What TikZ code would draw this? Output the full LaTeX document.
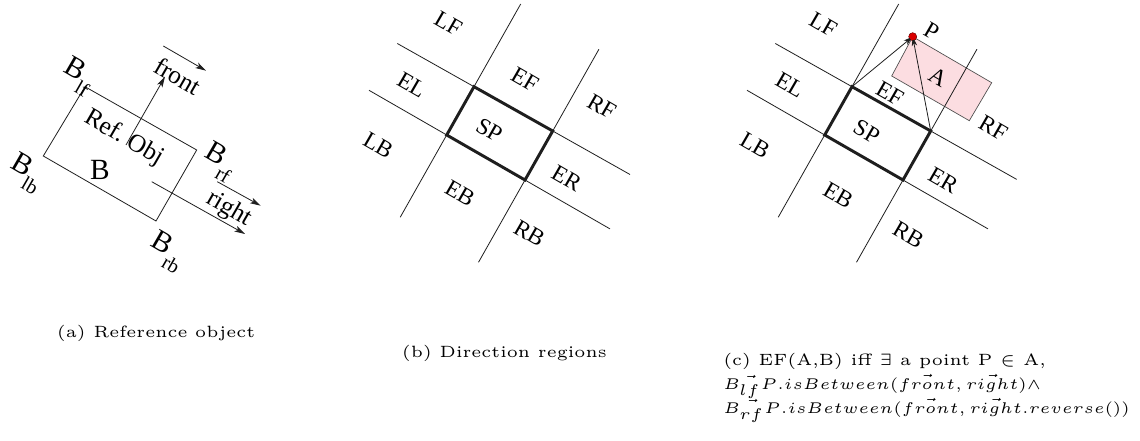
\documentclass[tikz,border=0pt]{standalone}
\usepackage{fontspec}
\newfontfamily\figfont{Liberation Serif}
\usetikzlibrary{arrows.meta,calc}
\newcommand{\mycapt}[1]{\scalebox{2.45}{\fontsize{5}{6}\selectfont #1}}
\newcommand{\mycaptm}[1]{\scalebox{2.33}{\fontsize{5}{6}\selectfont #1}}
\newcommand{\lowsub}[1]{\raisebox{-0.42em}{\fontsize{15}{15}\selectfont #1}}
\definecolor{pinkfill}{RGB}{252,221,225}
\definecolor{linecol}{RGB}{30,30,30}
\begin{document}
\begin{tikzpicture}[x=0.75pt,y=-0.75pt,
  thinline/.style={line width=0.6pt, draw=linecol},
  thickline/.style={line width=2.2pt, draw=linecol, line join=miter},
  arr/.style={thinline, -{Stealth[length=8pt,width=4.5pt,inset=2pt]}},
  parr/.style={thinline, -{Stealth[length=7pt,width=4pt,inset=2pt]}},
  lab/.style={font=\figfont\fontsize{17.5}{17.5}\selectfont, rotate=-30, inner sep=0pt},
  biglab/.style={font=\figfont\fontsize{22}{22}\selectfont, rotate=-30, inner sep=0pt},
  midlab/.style={font=\figfont\fontsize{19}{19}\selectfont, rotate=-30, inner sep=0pt},
  caption/.style={anchor=base west, inner sep=0pt}]
\useasboundingbox (0,0) rectangle (1140,441);

% ---------------- panel (a)
\coordinate (alf) at (85,86.7);
\coordinate (arf) at (196.7,150);
\coordinate (arb) at (156,221);
\coordinate (alb) at (43.3,156);
\draw[thinline] (alf) -- (arf) -- (arb) -- (alb) -- cycle;
\coordinate (fs) at (126,145);
\coordinate (fe) at (165,76.7);
\draw[arr] (fs) -- (fe);
\coordinate (sfs) at (163.3,46);
\coordinate (sfe) at (206,70.7);
\draw[arr] (sfs) -- (sfe);
\coordinate (rs) at (151.7,181.7);
\coordinate (re) at (245,234);
\draw[arr] (rs) -- (re);
\coordinate (srs) at (217.3,181.7);
\coordinate (sre) at (260.7,205.7);
\draw[arr] (srs) -- (sre);
\node[midlab] (tfront) at (178,76) {front};
\node[midlab] (tright) at (229,209) {right};
\node[midlab] (tref) at (124,138) {Ref.\ Obj};
\node[font=\figfont\fontsize{22}{22}\selectfont, inner sep=0pt] (tB) at (100,170) {B};
\node[biglab] (tblf) at (78,76) {B\lowsub{lf}};
\node[biglab] (tbrf) at (219,162) {B\lowsub{rf}};
\node[biglab] (tblb) at (26,173) {B\lowsub{lb}};
\node[biglab] (tbrb) at (167,252) {B\lowsub{rb}};

% ---------------- panel (b)
\coordinate (bT) at (474,86.7);
\coordinate (bR) at (552.7,131);
\coordinate (bB) at (525,180);
\coordinate (bL) at (446.7,135);
\coordinate (bu1) at (397.3,43.5);
\coordinate (bu2) at (630,174.5);
\coordinate (bl1) at (369,90.3);
\coordinate (bl2) at (610,228.9);
\coordinate (bs1) at (520.7,4);
\coordinate (bs2) at (400.2,217.3);
\coordinate (bt1) at (598.9,49.3);
\coordinate (bt2) at (478.5,262.3);
\draw[thinline] (bu1) -- (bu2);
\draw[thinline] (bl1) -- (bl2);
\draw[thinline] (bs1) -- (bs2);
\draw[thinline] (bt1) -- (bt2);
\draw[thickline] (bT) -- (bR) -- (bB) -- (bL) -- cycle;
\node[lab] (bLF) at (448.3,23.3) {LF};
\node[lab] (bEF) at (525,80) {EF};
\node[lab] (bRF) at (601.7,106.7) {RF};
\node[lab] (bEL) at (411.7,85) {EL};
\node[lab] (bSP) at (489.3,130) {SP};
\node[lab] (bLB) at (378.3,145) {LB};
\node[lab] (bEB) at (460,193.3) {EB};
\node[lab] (bER) at (566.7,178.3) {ER};
\node[lab] (bRB) at (529.3,233.3) {RB};

% ---------------- panel (c)
\coordinate (cA1) at (912.7,36.7);
\coordinate (cA2) at (991.7,82.7);
\coordinate (cA3) at (969.3,120.7);
\coordinate (cA4) at (891.7,76);
\fill[pinkfill] (cA1) -- (cA2) -- (cA3) -- (cA4) -- cycle;
\draw[line width=0.5pt, draw=black!70] (cA1) -- (cA2) -- (cA3) -- (cA4) -- cycle;
\coordinate (cT) at (852,86.7);
\coordinate (cR) at (930.7,131);
\coordinate (cB) at (903,180);
\coordinate (cL) at (824.7,135);
\coordinate (cu1) at (775.3,43.5);
\coordinate (cu2) at (1016.7,179.4);
\coordinate (cl1) at (747,90.3);
\coordinate (cl2) at (988,228.9);
\coordinate (cs1) at (898.7,4);
\coordinate (cs2) at (778.2,217.3);
\coordinate (ct1) at (976.9,49.3);
\coordinate (ct2) at (856.5,262.3);
\draw[thinline] (cu1) -- (cu2);
\draw[thinline] (cl1) -- (cl2);
\draw[thinline] (cs1) -- (cs2);
\draw[thinline] (ct1) -- (ct2);
\draw[thickline] (cT) -- (cR) -- (cB) -- (cL) -- cycle;
\node[circle, fill=red!85!black, draw=black!60!red, line width=0.4pt, minimum size=6pt, inner sep=0pt] (P) at (cA1) {};
\draw[parr] (cT) -- (P.center);
\draw[parr] (cR) -- (P.center);
\fill[red!85!black] (P) circle (2.6pt);
\node[lab] (cPl) at (931.5,31.5) {P};
\node[lab] (cAl) at (938,77) {A};
\node[lab] (cLF) at (823.3,25) {LF};
\node[lab] (cEF) at (890,93.3) {EF};
\node[lab] (cRF) at (993.3,128.3) {RF};
\node[lab] (cEL) at (790,85) {EL};
\node[lab] (cSP) at (866.7,131.7) {SP};
\node[lab] (cLB) at (755,145) {LB};
\node[lab] (cEB) at (838.3,195) {EB};
\node[lab] (cER) at (943.3,180) {ER};
\node[lab] (cRB) at (908.3,235) {RB};

% ---------------- captions
\node[caption] (capa) at (56.7,338) {\mycapt{(a) Reference object}};
\node[caption] (capb) at (401.7,357.3) {\mycapt{(b) Direction regions}};
\node[caption] (capc1) at (723,365.7) {\mycapt{(c) EF(A,B) iff $\exists$ a point P $\in$ A,}};
\node[caption] (capc2) at (723,390) {\mycaptm{$\vec{B_{lf}P}.isBetween(\vec{front},\vec{right})\wedge$}};
\node[caption] (capc3) at (723,414) {\mycaptm{$\vec{B_{rf}P}.isBetween(\vec{front},\vec{right}.reverse())$}};
\end{tikzpicture}
\end{document}
